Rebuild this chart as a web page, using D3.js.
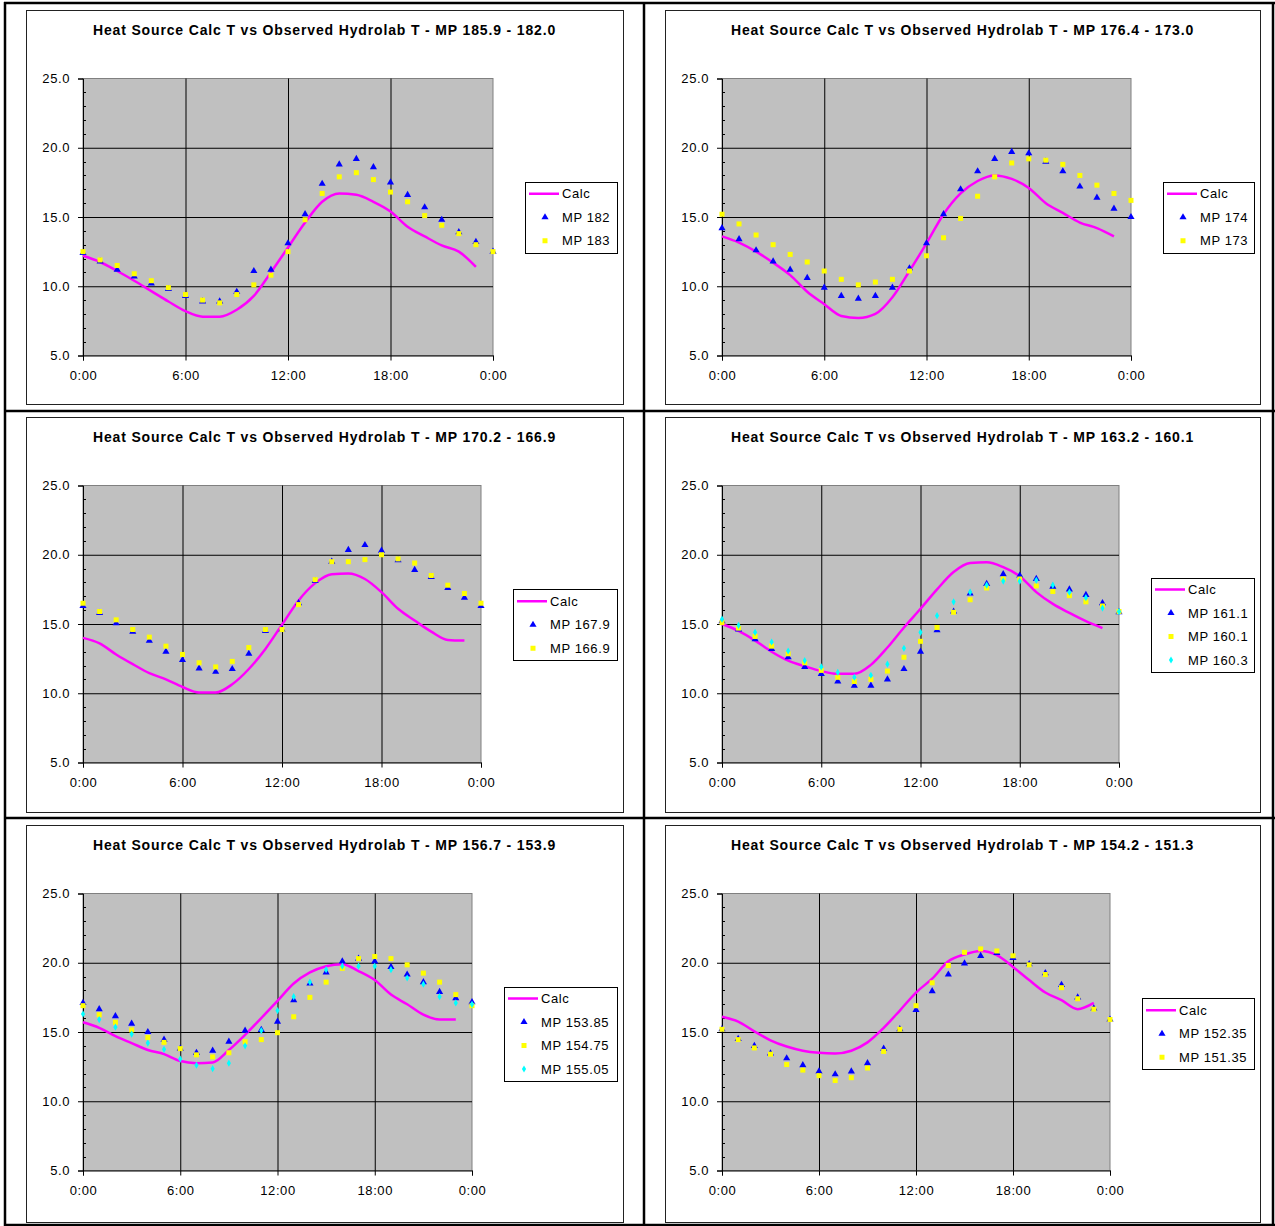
<!DOCTYPE html>
<html>
<head>
<meta charset="utf-8">
<script src="https://cdn.jsdelivr.net/npm/d3@7"></script>
<style>
  body { margin: 0; background: #fff; }
  text { font-family: Arial, "Liberation Sans", sans-serif; }
</style>
</head>
<body>
<svg id="chart"></svg>
<script>
// hours of the day, 0:00 .. next 0:00
const hours = [0,1,2,3,4,5,6,7,8,9,10,11,12,13,14,15,16,17,18,19,20,21,22,23,24]
const xTickValues = [0, 6, 12, 18, 24]
const xTickLabels = ["0:00", "6:00", "12:00", "18:00", "0:00"]
const yTickValues = [5, 10, 15, 20, 25]

// panel 1 : MP 185.9 - 182.0
const calc1 = [12.2,11.75,11.1,10.4,9.65,8.9,8.2,7.8,7.8,8.3,9.3,11.0,12.8,14.6,16.1,16.7,16.6,16.1,15.4,14.3,13.6,12.95,12.5,11.4]
const mp182 = [12.4,11.8,11.2,10.7,10.2,9.8,9.3,8.9,8.9,9.6,11.1,11.2,13.1,15.2,17.4,18.8,19.2,18.6,17.5,16.6,15.7,14.8,13.9,13.2,12.5]
const mp183 = [12.5,11.9,11.5,10.9,10.4,9.9,9.4,9.0,8.8,9.4,10.1,10.8,12.5,14.8,16.7,17.9,18.2,17.7,16.8,16.1,15.1,14.4,13.8,13.0,12.5]

// panel 2 : MP 176.4 - 173.0
const calc2 = [13.6,13.15,12.5,11.7,10.8,9.6,8.7,7.85,7.7,8.0,9.2,11.1,13.1,15.2,16.7,17.6,18.0,17.75,17.1,16.0,15.3,14.6,14.2,13.6]
const mp174 = [14.2,13.4,12.6,11.8,11.2,10.6,9.9,9.3,9.1,9.3,9.9,11.3,13.1,15.2,17.0,18.3,19.2,19.7,19.6,19.0,18.3,17.2,16.4,15.6,15.0]
const mp173 = [15.2,14.5,13.7,13.0,12.3,11.75,11.1,10.5,10.1,10.3,10.5,11.1,12.2,13.5,14.9,16.5,17.9,18.9,19.2,19.1,18.8,18.0,17.3,16.7,16.2]

// panel 3 : MP 170.2 - 166.9
const calc3 = [14.0,13.6,12.8,12.1,11.45,11.0,10.45,10.05,10.05,10.65,11.75,13.2,14.95,16.7,17.95,18.6,18.65,18.25,17.3,16.1,15.25,14.45,13.85,13.8]
const mp1679 = [16.3,15.8,15.05,14.45,13.8,13.0,12.4,11.8,11.55,11.75,12.85,14.5,14.6,16.5,18.1,19.5,20.35,20.7,20.3,19.6,18.9,18.4,17.6,16.9,16.3]
const mp1669 = [16.5,15.9,15.3,14.6,14.05,13.4,12.8,12.2,11.9,12.3,13.3,14.6,14.6,16.4,18.2,19.5,19.5,19.65,20.0,19.7,19.4,18.5,17.8,17.2,16.5]

// panel 4 : MP 163.2 - 160.1
const calc4 = [15.0,14.5,13.8,13.0,12.35,11.95,11.6,11.4,11.4,12.05,13.3,14.75,16.1,17.5,18.75,19.4,19.45,19.1,18.45,17.3,16.45,15.8,15.2,14.7]
const mp1611 = [15.2,14.6,13.9,13.2,12.6,11.9,11.4,10.85,10.55,10.55,11.0,11.75,13.0,14.55,15.9,17.2,17.9,18.6,18.5,18.25,17.7,17.5,17.1,16.5,15.85]
const mp1601 = [15.1,14.7,14.1,13.4,12.85,12.2,11.65,11.15,10.85,11.0,11.6,12.6,13.75,14.75,15.85,16.75,17.6,18.25,18.25,17.75,17.35,17.05,16.6,16.3,15.9]
const mp1603 = [15.35,14.9,14.4,13.7,13.05,12.35,11.9,11.5,11.15,11.3,12.1,13.25,14.4,15.6,16.6,17.3,17.8,18.1,18.1,18.15,17.8,17.3,16.9,16.15,15.9]

// panel 5 : MP 156.7 - 153.9
const calc5 = [15.7,15.3,14.7,14.2,13.7,13.4,12.9,12.75,12.8,13.7,14.8,16.0,17.25,18.5,19.3,19.75,19.9,19.4,18.75,17.7,17.0,16.25,15.9,15.9]
const mp15385 = [17.1,16.65,16.15,15.6,15.0,14.45,13.8,13.5,13.65,14.3,15.1,15.15,15.75,17.3,18.5,19.3,20.1,20.3,20.1,19.7,19.15,18.6,17.9,17.45,17.15]
const mp15475 = [16.9,16.25,15.7,15.15,14.6,14.25,13.8,13.35,13.2,13.5,14.3,14.45,14.95,16.1,17.5,18.6,19.6,20.3,20.45,20.3,19.85,19.25,18.6,17.7,16.9]
const mp15505 = [16.3,15.9,15.35,14.85,14.2,13.75,13.05,12.6,12.35,12.75,14.0,15.1,16.55,17.55,18.6,19.5,19.75,19.75,19.75,19.5,18.9,18.45,17.55,17.1,17.0]

// panel 6 : MP 154.2 - 151.3
const calc6 = [16.1,15.75,15.05,14.4,13.95,13.65,13.5,13.45,13.65,14.25,15.3,16.55,17.85,18.85,20.1,20.6,20.85,20.55,19.7,18.75,17.85,17.3,16.65,17.1]
const mp15235 = [15.2,14.5,14.0,13.45,13.1,12.6,12.15,11.95,12.15,12.75,13.8,15.2,16.6,17.95,19.15,19.95,20.5,20.7,20.35,19.9,19.25,18.4,17.5,16.7,15.9]
const mp15135 = [15.2,14.45,13.85,13.4,12.65,12.25,11.85,11.5,11.7,12.4,13.6,15.2,16.9,18.55,19.8,20.75,21.0,20.85,20.5,19.85,19.15,18.2,17.4,16.65,15.9]

const titles = [
    "Heat Source Calc T vs Observed Hydrolab T - MP 185.9 - 182.0",
    "Heat Source Calc T vs Observed Hydrolab T - MP 176.4 - 173.0",
    "Heat Source Calc T vs Observed Hydrolab T - MP 170.2 - 166.9",
    "Heat Source Calc T vs Observed Hydrolab T - MP 163.2 - 160.1",
    "Heat Source Calc T vs Observed Hydrolab T - MP 156.7 - 153.9",
    "Heat Source Calc T vs Observed Hydrolab T - MP 154.2 - 151.3"
]

// each panel: calc line + observed series (name, values)
const panels = [
    { title: titles[0], calc: calc1, obs: [["MP 182", mp182], ["MP 183", mp183]] },
    { title: titles[1], calc: calc2, obs: [["MP 174", mp174], ["MP 173", mp173]] },
    { title: titles[2], calc: calc3, obs: [["MP 167.9", mp1679], ["MP 166.9", mp1669]] },
    { title: titles[3], calc: calc4, obs: [["MP 161.1", mp1611], ["MP 160.1", mp1601], ["MP 160.3", mp1603]] },
    { title: titles[4], calc: calc5, obs: [["MP 153.85", mp15385], ["MP 154.75", mp15475], ["MP 155.05", mp15505]] },
    { title: titles[5], calc: calc6, obs: [["MP 152.35", mp15235], ["MP 151.35", mp15135]] }
]

const width = 1275
const height = 1226
const svg = d3.select('#chart')
    .attr('width', width)
    .attr('height', height)
    .attr('viewBox', `0 0 ${width} ${height}`)

// chart box layout (excel-ish)
const colLeft = [26, 665]
const colRight = [623, 1260]
const rowTop = [10, 417, 825]
const rowBottom = [404, 812, 1222]
const plotRights = [493, 1131, 481, 1119, 472, 1110]
const font = 'Arial, "Liberation Sans", sans-serif'

const markerStyle = [
    { type: 'tri', color: '#0000ff' },
    { type: 'sq', color: '#ffff00' },
    { type: 'dia', color: '#00ffff' }
]

const drawMarker = (g, type, color, x, y) => {
    if (type === 'sq') {
        g.append('rect')
            .attr('x', x - 2.5).attr('y', y - 2.5)
            .attr('width', 5).attr('height', 5)
            .attr('fill', color)
    } else {
        const sym = type === 'tri' ? d3.symbolTriangle : d3.symbolDiamond
        const size = type === 'tri' ? 22 : 15
        g.append('path')
            .attr('d', d3.symbol().type(sym).size(size)())
            .attr('transform', `translate(${x},${y})`)
            .attr('fill', color)
    }
}

panels.forEach((p, i) => {
    const col = i % 2
    const row = Math.floor(i / 2)
    const bx0 = colLeft[col], bx1 = colRight[col]
    const by0 = rowTop[row], by1 = rowBottom[row]

    const g = svg.append('g')

    // chart box
    g.append('rect')
        .attr('x', bx0 + 0.5).attr('y', by0 + 0.5)
        .attr('width', bx1 - bx0).attr('height', by1 - by0)
        .attr('fill', '#fff')
        .attr('stroke', '#222')
        .attr('stroke-width', 1)

    // title
    g.append('text')
        .attr('x', (bx0 + bx1) / 2)
        .attr('y', by0 + 25)
        .attr('text-anchor', 'middle')
        .attr('font-size', 14)
        .attr('font-weight', 'bold')
        .attr('letter-spacing', 0.85)
        .text(p.title)

    const left = bx0 + 57
    const right = plotRights[i]
    const top = by0 + 68.5
    const bottom = top + 277

    const x = d3.scaleLinear().domain([0, 24]).range([left, right])
    const y = d3.scaleLinear().domain([5, 25]).range([bottom, top])

    // plot area
    g.append('rect')
        .attr('x', left).attr('y', top)
        .attr('width', right - left).attr('height', bottom - top)
        .attr('fill', '#c0c0c0')
        .attr('stroke', '#808080')

    // grid
    g.append('g')
        .attr('transform', `translate(0,${bottom})`)
        .call(d3.axisBottom(x).tickValues(xTickValues.slice(1, -1)).tickSize(-(bottom - top)).tickFormat(''))
        .call(g => g.select('.domain').remove())
        .call(g => g.selectAll('line').attr('stroke', '#000'))
    g.append('g')
        .attr('transform', `translate(${left},0)`)
        .call(d3.axisLeft(y).tickValues(yTickValues.slice(1, -1)).tickSize(-(right - left)).tickFormat(''))
        .call(g => g.select('.domain').remove())
        .call(g => g.selectAll('line').attr('stroke', '#000'))

    // minor y ticks (inside)
    const minor = d3.range(6, 25).filter(v => v % 5 !== 0)
    g.append('g')
        .selectAll('line')
        .data(minor)
        .join('line')
        .attr('x1', left).attr('x2', left + 3)
        .attr('y1', d => Math.round(y(d)) + 0.5).attr('y2', d => Math.round(y(d)) + 0.5)
        .attr('stroke', '#000')

    // axes
    g.append('g')
        .attr('transform', `translate(${left},0)`)
        .call(d3.axisLeft(y).tickValues(yTickValues).tickSize(5).tickPadding(8).tickFormat(d3.format('.1f')))
        .call(g => g.selectAll('line, .domain').attr('stroke', '#000'))
        .call(g => g.selectAll('text').attr('font-size', 13).attr('letter-spacing', 0.6).attr('fill', '#000').attr('font-family', font))
    g.append('g')
        .attr('transform', `translate(0,${bottom})`)
        .call(d3.axisBottom(x).tickValues(xTickValues).tickSize(5).tickPadding(10).tickFormat((d, k) => xTickLabels[k]))
        .call(g => g.selectAll('line, .domain').attr('stroke', '#000'))
        .call(g => g.selectAll('text').attr('font-size', 13).attr('letter-spacing', 0.6).attr('fill', '#000').attr('font-family', font))

    // calc line
    const line = d3.line()
        .x((d, k) => x(hours[k]))
        .y(d => y(d))
        .curve(d3.curveMonotoneX)
    g.append('path')
        .attr('d', line(p.calc))
        .attr('fill', 'none')
        .attr('stroke', '#ff00ff')
        .attr('stroke-width', 2.5)

    // observed markers
    p.obs.forEach((s, k) => {
        const st = markerStyle[k]
        s[1].forEach((v, h) => drawMarker(g, st.type, st.color, x(hours[h]), y(v)))
    })

    // legend
    const n = p.obs.length + 1
    const legH = n * 23.5
    const legL = right + 32
    const legR = bx1 - 6
    const legT = (by0 + by1) / 2 + 10 - legH / 2
    const leg = g.append('g')
    leg.append('rect')
        .attr('x', legL + 0.5).attr('y', Math.round(legT) + 0.5)
        .attr('width', legR - legL).attr('height', Math.round(legH))
        .attr('fill', '#fff')
        .attr('stroke', '#000')
    const rowY = r => legT + 12 + r * 23.5
    leg.append('line')
        .attr('x1', legL + 4).attr('x2', legL + 34)
        .attr('y1', rowY(0)).attr('y2', rowY(0))
        .attr('stroke', '#ff00ff').attr('stroke-width', 2.5)
    leg.append('text')
        .attr('x', legL + 37).attr('y', rowY(0) + 4.5)
        .attr('font-size', 13).attr('letter-spacing', 0.6)
        .text('Calc')
    p.obs.forEach((s, k) => {
        const st = markerStyle[k]
        drawMarker(leg, st.type, st.color, legL + 20, rowY(k + 1))
        leg.append('text')
            .attr('x', legL + 37).attr('y', rowY(k + 1) + 4.5)
            .attr('font-size', 13).attr('letter-spacing', 0.6)
            .text(s[0])
    })
})

// table borders
const tableV = [5, 644, 1273]
const tableH = [3, 411, 818, 1225]
svg.append('g')
    .selectAll('line')
    .data(tableV)
    .join('line')
    .attr('x1', d => d).attr('x2', d => d)
    .attr('y1', 2).attr('y2', 1226)
    .attr('stroke', '#000').attr('stroke-width', 2.5)
svg.append('g')
    .selectAll('line')
    .data(tableH)
    .join('line')
    .attr('y1', d => d).attr('y2', d => d)
    .attr('x1', 4).attr('x2', 1275)
    .attr('stroke', '#000').attr('stroke-width', 2.5)
</script>
</body>
</html>
